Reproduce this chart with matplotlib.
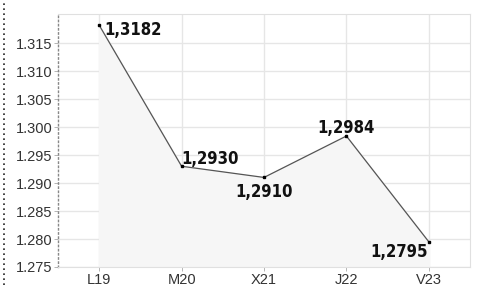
import matplotlib
matplotlib.use("Agg")
import matplotlib.pyplot as plt
from matplotlib.lines import Line2D

categories = ["L19", "M20", "X21", "J22", "V23"]
values = [1.3182, 1.2930, 1.2910, 1.2984, 1.2795]
value_labels = ["1,3182", "1,2930", "1,2910", "1,2984", "1,2795"]
yticks = [1.275, 1.280, 1.285, 1.290, 1.295, 1.300, 1.305, 1.310, 1.315]

fig = plt.figure(figsize=(4.79, 2.88), dpi=100)
ax = fig.add_axes([58/479, 1 - 267/288, (470-58)/479, (267-14)/288])

x = list(range(len(categories)))
ax.fill_between(x, values, 1.275, color="#f6f6f6", zorder=1)
ax.plot(x, values, color="#555555", lw=0.9, zorder=3)
ax.plot(x, values, ls="none", marker="s", ms=2.0, color="black", zorder=4)

ax.set_xlim(-0.5, 4.5)
ax.set_ylim(1.275, 1.3202)
ax.set_xticks(x)
ax.set_xticklabels(categories)
ax.set_yticks(yticks)
ax.set_yticklabels([f"{v:.3f}" for v in yticks])
ax.grid(True, color="#e6e6e6", lw=1.0, zorder=0)
ax.set_axisbelow(True)
ax.tick_params(axis="both", labelsize=10.5, length=3, width=0.6)
ax.tick_params(axis="x", colors="#aaaaaa", labelcolor="#333333", pad=1)
ax.tick_params(axis="y", colors="#aaaaaa", labelcolor="#333333", pad=1)
for lbl in ax.get_xticklabels() + ax.get_yticklabels():
    lbl.set_family("Liberation Sans")

for s in ["top", "right", "bottom"]:
    ax.spines[s].set_color("#e0e0e0")
ax.spines["left"].set_linestyle((0, (1, 2)))
ax.spines["left"].set_color("#888888")
ax.spines["left"].set_linewidth(1.0)

offsets = [(4, 3, "left", "top"), (0, -1, "left", "bottom"), (0, -4, "center", "top"),
           (0, -1, "center", "bottom"), (-1, -1, "right", "top")]
for xi, v, t, (dx, dy, ha, va) in zip(x, values, value_labels, offsets):
    ax.annotate(t, (xi, v), xytext=(dx, dy), textcoords="offset points",
                ha=ha, va=va, fontsize=12, fontweight="bold", fontstretch="condensed",
                family="DejaVu Sans", color="#111111", zorder=5)

fig.add_artist(Line2D([4/479, 4/479], [0.01, 0.99], transform=fig.transFigure,
                      color="#222222", lw=1.2, ls=(0, (1, 2))))

fig.savefig("out.png", dpi=100)
